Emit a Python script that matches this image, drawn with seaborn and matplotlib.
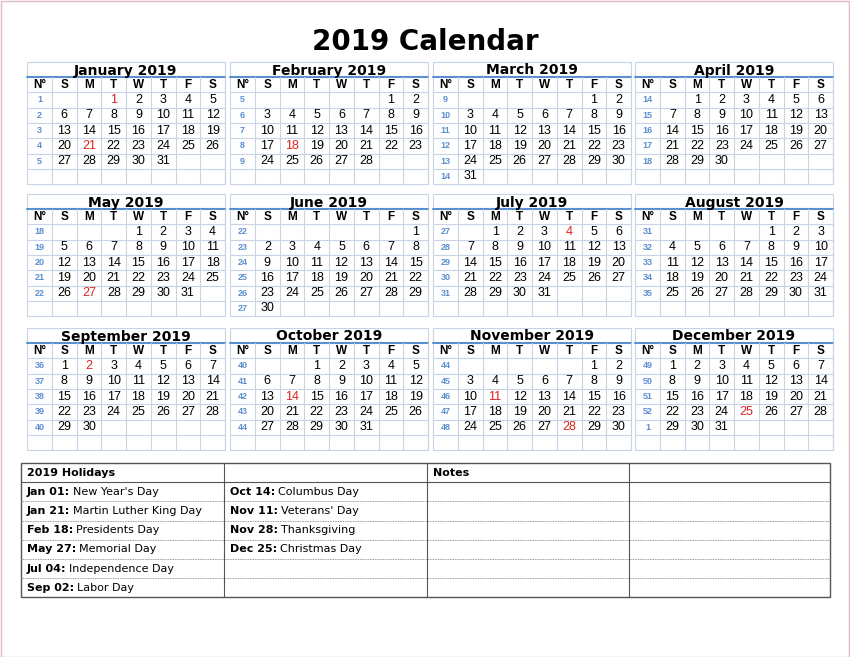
import calendar, datetime
import matplotlib
matplotlib.use("Agg")
import matplotlib.pyplot as plt
import seaborn as sns

sns.set_style("white")
plt.rcParams['font.family'] = ['DejaVu Sans']
plt.rcParams['text.color'] = 'black'

YEAR = 2019
month_names = ["January","February","March","April","May","June","July",
               "August","September","October","November","December"]
weekday_labels = ["S","M","T","W","T","F","S"]
holiday_dates = [(1,1),(1,21),(2,18),(5,27),(7,4),(9,2),(10,14),(11,11),(11,28),(12,25)]
holidays_left = [("Jan 01:", "New Year's Day"), ("Jan 21:", "Martin Luther King Day"),
                 ("Feb 18:", "Presidents Day"), ("May 27:", "Memorial Day"),
                 ("Jul 04:", "Independence Day"), ("Sep 02:", "Labor Day")]
holidays_right = [("Oct 14:", "Columbus Day"), ("Nov 11:", "Veterans' Day"),
                  ("Nov 28:", "Thanksgiving"), ("Dec 25:", "Christmas Day")]

fig = plt.figure(figsize=(8.5, 6.57), dpi=100)
ax = fig.add_axes([0, 0, 1, 1])
ax.set_xlim(0, 850); ax.set_ylim(657, 0); ax.axis("off")
ax.add_patch(plt.Rectangle((0.5, 0.5), 849, 656, fill=False, ec="#e0b8c8", lw=1))

ax.text(425, 42, f"{YEAR} Calendar", ha="center", va="center", fontsize=20, weight="bold")

grid_c = "#c8d4e6"
blue = "#5b8fd0"
cal = calendar.Calendar(firstweekday=6)
col_x = [27, 230, 433, 635]
row_y = [62, 194, 328]
W = 198; nw = 25; cw = (W - nw) / 7; rh = 15.3
day_font = "Liberation Sans"

def weekno(d):
    doy = d.timetuple().tm_yday
    jan1 = (datetime.date(YEAR, 1, 1).isoweekday() % 7)
    w = (doy - 1 + jan1) // 7 + 1
    return 1 if w == 53 else w

for m in range(12):
    x0 = col_x[m % 4]; y0 = row_y[m // 4]
    ytop = y0; ytitle = y0 + 15; yh = ytitle + rh
    ybot = yh + 6 * rh
    ax.add_patch(plt.Rectangle((x0, ytop), W, ybot - ytop, fill=False, ec=grid_c, lw=0.8))
    for i in range(0, 6):
        ax.plot([x0, x0 + W], [yh + i * rh] * 2, color=grid_c, lw=0.8)
    ax.plot([x0, x0 + W], [ytitle, ytitle], color=blue, lw=1.5)
    for j in range(8):
        xx = x0 + nw + j * cw
        ax.plot([xx, xx], [ytitle, ybot], color=grid_c, lw=0.8)
    ax.text(x0 + W / 2, y0 + 8.5, f"{month_names[m]} {YEAR}", ha="center", va="center",
            fontsize=10, weight="bold")
    ax.text(x0 + nw / 2, ytitle + rh / 2, "N°", ha="center", va="center", fontsize=8.5,
            weight="bold", family=day_font)
    for j, wl in enumerate(weekday_labels):
        ax.text(x0 + nw + (j + .5) * cw, ytitle + rh / 2, wl, ha="center", va="center",
                fontsize=8.5, weight="bold", family=day_font)
    weeks = cal.monthdatescalendar(YEAR, m + 1)
    for r, wk in enumerate(weeks):
        yc = yh + (r + .5) * rh
        first = [d for d in wk if d.month == m + 1][0]
        ax.text(x0 + nw / 2, yc, str(weekno(first)), ha="center", va="center",
                fontsize=6.5, weight="bold", color=blue, family=day_font)
        for j, d in enumerate(wk):
            if d.month != m + 1:
                continue
            col = "#e02020" if (d.month, d.day) in holiday_dates else "black"
            ax.text(x0 + nw + (j + .5) * cw, yc, str(d.day), ha="center", va="center",
                    fontsize=9, color=col, family=day_font)

tx0, tx1 = 21, 830
ty0 = 463; th = 19.2
seps = [224, 427, 629]
tyb = ty0 + 7 * th
ax.add_patch(plt.Rectangle((tx0, ty0), tx1 - tx0, tyb - ty0, fill=False, ec="#555555", lw=1))
for s in seps:
    ax.plot([s, s], [ty0, tyb], color="#555555", lw=0.8)
ax.plot([tx0, tx1], [ty0 + th] * 2, color="#555555", lw=0.8)
for i in range(2, 7):
    ax.plot([tx0, tx1], [ty0 + i * th] * 2, color="#777777", lw=0.6, ls=(0, (1, 1)))
ax.text(27, ty0 + th / 2, f"{YEAR} Holidays", ha="left", va="center", fontsize=8, weight="bold")
ax.text(433, ty0 + th / 2, "Notes", ha="left", va="center", fontsize=8, weight="bold")

def hol(x, y, a, b):
    t = ax.text(x, y, a, ha="left", va="center", fontsize=8, weight="bold")
    fig.canvas.draw()
    bb = t.get_window_extent()
    ax.text(x + bb.width + 3, y, b, ha="left", va="center", fontsize=8)

for i, (a, b) in enumerate(holidays_left):
    hol(27, ty0 + (i + 1.5) * th, a, b)
for i, (a, b) in enumerate(holidays_right):
    hol(230, ty0 + (i + 1.5) * th, a, b)

fig.savefig("out.png", dpi=100)
